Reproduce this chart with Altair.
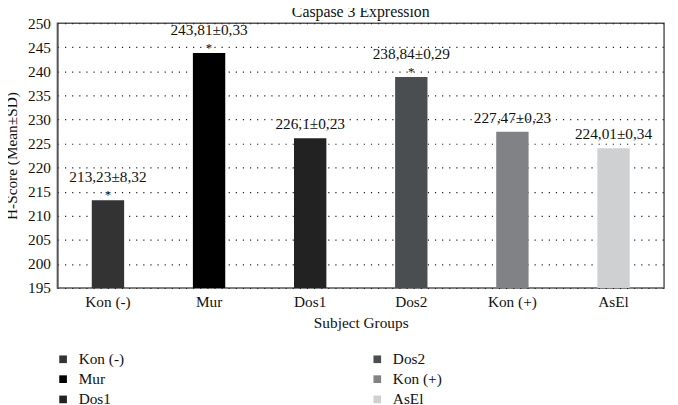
import altair as alt
import pandas as pd

groups = ["Kon (-)", "Mur", "Dos1", "Dos2", "Kon (+)", "AsEl"]
values = [213.23, 243.81, 226.1, 238.84, 227.47, 224.01]
labels = ["213,23±8,32", "243,81±0,33", "226,1±0,23", "238,84±0,29", "227,47±0,23", "224,01±0,34"]
stars = ["*", "*", "", "*", "", ""]
colors = ["#333333", "#000000", "#222222", "#4b4e51", "#808285", "#cfd0d2"]
y_ticks = [195, 200, 205, 210, 215, 220, 225, 230, 235, 240, 245, 250]

df = pd.DataFrame({"group": groups, "value": values, "label": labels, "star": stars})

FONT = "Liberation Serif"
FS = 15.5

x = alt.X("group:N", sort=groups, title="Subject Groups",
          scale=alt.Scale(paddingInner=0.68, paddingOuter=0.34),
          axis=alt.Axis(labelAngle=0, ticks=False, domain=False, labelPadding=7,
                        labelFontSize=FS, titleFontSize=FS, titleFontWeight="normal",
                        labelColor="#111", titleColor="#111", titlePadding=5))
y = alt.Y("value:Q", title="H-Score (Mean±SD)",
          scale=alt.Scale(domain=[195, 250], zero=False, nice=False),
          axis=alt.Axis(values=y_ticks, tickCount=12, ticks=False, labelPadding=7,
                        labelOverlap=False, labelFlush=False,
                        domainColor="#555", domainWidth=1.5, grid=True, gridColor="#222",
                        gridDash=[1.2, 6], gridWidth=1.2, labelFontSize=FS,
                        titleFontSize=FS, titleFontWeight="normal", labelColor="#111",
                        titleColor="#111", titlePadding=8))

base = alt.Chart(df)

bars = base.mark_bar().encode(
    x=x, y=y, y2=alt.datum(195),
    color=alt.Color("group:N",
                    scale=alt.Scale(domain=groups, range=colors),
                    legend=alt.Legend(title=None, orient="none", legendX=-2, legendY=332,
                                      columns=2, columnPadding=248, rowPadding=3.5,
                                      symbolType="square", symbolSize=60, symbolStrokeWidth=0,
                                      labelFontSize=FS, labelFont=FONT, labelColor="#111",
                                      labelOffset=8)),
)

lab_star = base.transform_filter(alt.datum.star != "").mark_text(
    fontSize=FS, font=FONT, color="#111", baseline="middle", dy=-23
).encode(x=x, y=y, text="label:N")
lab_plain = base.transform_filter(alt.datum.star == "").mark_text(
    fontSize=FS, font=FONT, color="#111", baseline="middle", dy=-14
).encode(x=x, y=y, text="label:N")
st = base.transform_filter(alt.datum.star != "").mark_text(
    fontSize=13, font=FONT, color="#111", baseline="middle", dy=-5
).encode(x=x, y=y, text="star:N")

chart = alt.layer(bars, lab_star, lab_plain, st).properties(
    width=614, height=268,
    title=alt.Title("Caspase 3 Expression", fontSize=16, font=FONT, fontWeight="normal",
                    color="#111", offset=-4),
    autosize=alt.AutoSizeParams(type="none"),
    padding={"left": 50, "top": 13, "right": 6, "bottom": 116},
).configure_view(stroke="#555", strokeWidth=1.5).configure_axis(
    labelFont=FONT, titleFont=FONT
)

chart.save("out.html", embed_options={"renderer": "svg", "actions": False})
